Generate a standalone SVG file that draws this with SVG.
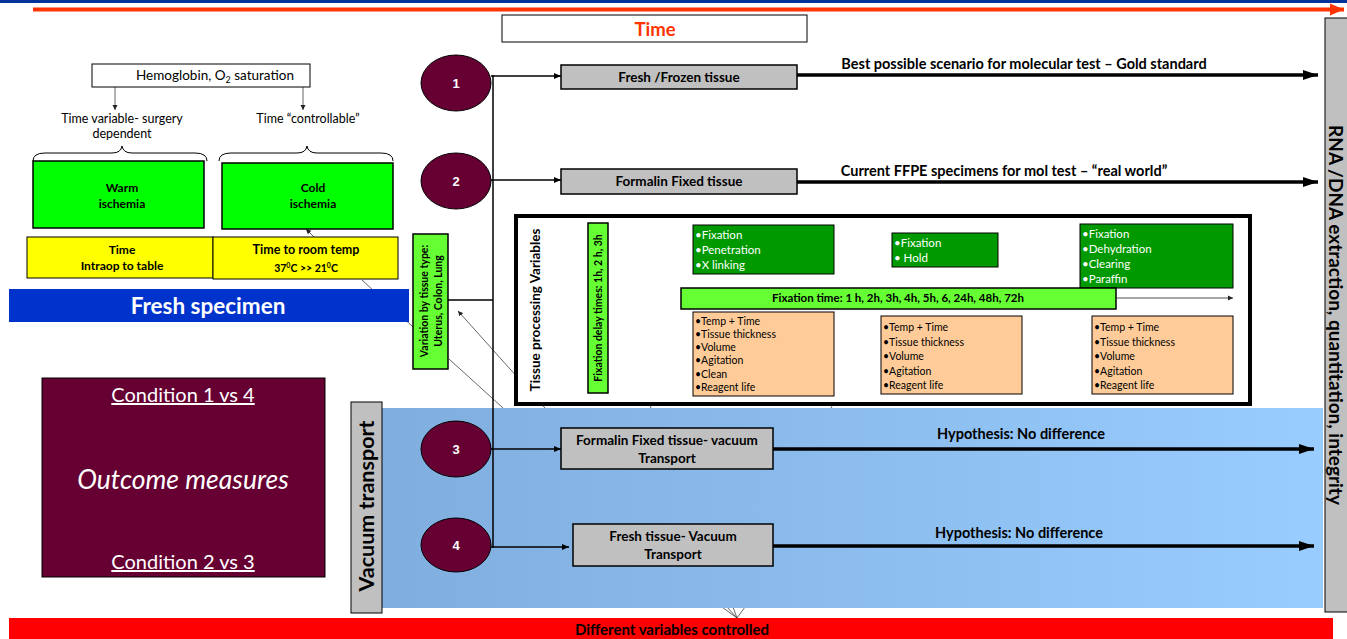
<svg xmlns="http://www.w3.org/2000/svg" width="1347" height="639" viewBox="0 0 1347 639">
<style>
text{font-family:Lato,"Liberation Sans",sans-serif;}
.b{font-weight:bold;}
.c{text-anchor:middle;}
.grey{fill:#C0C0C0;stroke:#000;stroke-width:1.5;}
.dg{fill:#009900;stroke:#000;stroke-width:1;}
.lg{fill:#66FF33;stroke:#000;stroke-width:1.5;}
.or{fill:#FFCC99;stroke:#000;stroke-width:1;}
.circ{fill:#660033;stroke:#000;stroke-width:1;}
.num{font-family:"Liberation Sans",Arial,sans-serif;font-weight:bold;font-size:13px;fill:#fff;text-anchor:middle;}
.wt{fill:#fff;font-size:11.5px;}
.bt{fill:#000;font-size:10.5px;}
.thin{stroke:#404040;stroke-width:0.8;fill:none;}
.thick{stroke:#000;stroke-width:3.5;fill:none;}
.med{stroke:#000;stroke-width:1.5;fill:none;}
.lbl{font-weight:bold;font-size:14.5px;text-anchor:middle;}
.bx{font-weight:bold;font-size:13.5px;text-anchor:middle;}
</style>
<defs>
<marker id="ah" markerWidth="8" markerHeight="8" refX="7" refY="4" orient="auto" markerUnits="userSpaceOnUse"><path d="M0,1 L7,4 L0,7 z" fill="#000"/></marker>
<marker id="big" markerWidth="16" markerHeight="12" refX="15" refY="6" orient="auto" markerUnits="userSpaceOnUse"><path d="M0,1 L15,6 L0,11 z" fill="#000"/></marker>
<marker id="red" markerWidth="16" markerHeight="14" refX="14" refY="7" orient="auto" markerUnits="userSpaceOnUse"><path d="M0,1 L14,7 L0,13 z" fill="#FF3300"/></marker>
<marker id="sm" markerWidth="6" markerHeight="6" refX="5" refY="3" orient="auto" markerUnits="userSpaceOnUse"><path d="M0,0.5 L5,3 L0,5.5 z" fill="#222"/></marker>
<linearGradient id="band" x1="0" y1="0" x2="1" y2="0"><stop offset="0" stop-color="#80AEDE"/><stop offset="1" stop-color="#99CCFF"/></linearGradient>
</defs>
<rect width="1347" height="639" fill="#fff"/>

<g id="timeline">
<rect x="0" y="0" width="1347" height="3" fill="#003399"/>
<line x1="33" y1="9.5" x2="1344" y2="9.5" stroke="#FF3300" stroke-width="4" marker-end="url(#red)"/>
</g>
<g id="time-box">
<rect x="502" y="15" width="305" height="27" fill="#fff" stroke="#000" stroke-width="1"/>
<text x="655" y="36" class="b c" font-size="18.5" fill="#FF3300">Time</text>
</g>

<g id="connectors">
<line class="thin" x1="115" y1="87" x2="115" y2="110" marker-end="url(#sm)"/>
<line class="thin" x1="303" y1="87" x2="303" y2="110" marker-end="url(#sm)"/>
<line class="thin" x1="314" y1="237" x2="306" y2="229" marker-end="url(#sm)"/>
<line class="thin" x1="362" y1="280" x2="413" y2="327"/>
<line class="thin" x1="449" y1="359" x2="503" y2="408"/>
<line class="thin" x1="545" y1="408" x2="458" y2="311" marker-end="url(#sm)"/>
<line class="thin" x1="651" y1="408" x2="614" y2="312" marker-end="url(#sm)"/>
<line class="thin" x1="878" y1="309" x2="831" y2="408"/>
<line class="thin" x1="722" y1="607" x2="737" y2="618"/>
<line class="thin" x1="727" y1="607" x2="737" y2="618"/>
<line class="thin" x1="733" y1="607" x2="737" y2="618"/>
<line class="thin" x1="745" y1="607" x2="737" y2="618"/>
</g>

<g id="hemoglobin">
<rect x="92" y="64" width="218" height="23" fill="#fff" stroke="#000" stroke-width="1"/>
<text x="215" y="80" class="c" font-size="13.5">Hemoglobin, O<tspan font-size="9" dy="3">2</tspan><tspan dy="-3"> saturation</tspan></text>
</g>
<g id="time-labels">
<text x="122" y="123" class="c" font-size="12.5">Time variable- surgery</text>
<text x="122" y="138" class="c" font-size="12.5">dependent</text>
<text x="308" y="123" class="c" font-size="12.5">Time “controllable”</text>
</g>
<g id="braces">
<path d="M33,161 Q33,153 45,153 L112,153 Q121,153 122,146 Q123,153 132,153 L195,153 Q207,153 207,161" fill="none" stroke="#000" stroke-width="1"/>
<path d="M219,161 Q219,153 231,153 L297,153 Q306,153 307,146 Q308,153 317,153 L381,153 Q393,153 393,161" fill="none" stroke="#000" stroke-width="1"/>
</g>
<g id="warm">
<rect x="33" y="161" width="171" height="67" fill="#00FF00" stroke="#000" stroke-width="1.5"/>
<text x="122" y="192" class="b c" font-size="12">Warm</text>
<text x="122" y="208" class="b c" font-size="12">ischemia</text>
</g>
<g id="cold">
<rect x="222" y="163" width="171" height="66" fill="#00FF00" stroke="#000" stroke-width="1.5"/>
<text x="313" y="192" class="b c" font-size="12">Cold</text>
<text x="313" y="208" class="b c" font-size="12">ischemia</text>
</g>
<g id="intraop">
<rect x="27" y="237" width="186" height="41" fill="#FFFF00" stroke="#000" stroke-width="1"/>
<text x="122" y="254" class="b c" font-size="12">Time</text>
<text x="122" y="270" class="b c" font-size="12">Intraop to table</text>
</g>
<g id="roomtemp">
<rect x="213" y="237" width="185" height="42" fill="#FFFF00" stroke="#000" stroke-width="1"/>
<text x="306" y="254" class="b c" font-size="12.5">Time to room temp</text>
<text x="306" y="272" class="b c" font-size="10.5">37<tspan font-size="7" dy="-4">0</tspan><tspan dy="4">C &gt;&gt; 21</tspan><tspan font-size="7" dy="-4">0</tspan><tspan dy="4">C</tspan></text>
</g>
<g id="fresh-specimen">
<rect x="9" y="289" width="400" height="33" fill="#0033CC"/>
<text x="208" y="314" class="b c" font-size="22.5" fill="#fff">Fresh specimen</text>
</g>
<g id="variation">
<rect x="413" y="234" width="35" height="135" class="lg"/>
<text transform="translate(428,301) rotate(-90)" class="b c" font-size="10.5">Variation by tissue type:</text>
<text transform="translate(442,301) rotate(-90)" class="b c" font-size="10.5">Uterus, Colon, Lung</text>
</g>

<g id="outcome">
<rect x="42" y="378" width="283" height="199" fill="#660033" stroke="#000" stroke-width="1"/>
<text x="183" y="402" class="c" font-size="20" fill="#fff" text-decoration="underline">Condition 1 vs 4</text>
<text x="183" y="489" class="c" font-size="26.5" fill="#fff" font-style="italic">Outcome measures</text>
<text x="183" y="569" class="c" font-size="20" fill="#fff" text-decoration="underline">Condition 2 vs 3</text>
</g>

<g id="vacuum-band">
<rect x="382" y="408" width="941" height="200" fill="url(#band)"/>
</g>
<g id="vacuum-label">
<rect x="351" y="402" width="31" height="211" fill="#C0C0C0" stroke="#000" stroke-width="1"/>
<text transform="translate(374,506) rotate(-90)" class="b c" font-size="21.5">Vacuum transport</text>
</g>

<g id="tissue-processing">
<rect x="516" y="216" width="734" height="188" fill="#fff" stroke="#000" stroke-width="4"/>
<text transform="translate(540,310) rotate(-90)" class="b c" font-size="13.5">Tissue processing Variables</text>
</g>
<g id="delay">
<rect x="588" y="223" width="20" height="170" class="lg"/>
<text transform="translate(602,308) rotate(-90)" class="b c" font-size="10.5">Fixation delay times: 1h, 2 h, 3h</text>
</g>
<g id="green1">
<rect x="693" y="225" width="141" height="49" class="dg"/>
<text x="695" y="239" class="wt">•Fixation</text>
<text x="695" y="254" class="wt">•Penetration</text>
<text x="695" y="269" class="wt">•X linking</text>
</g>
<g id="green2">
<rect x="892" y="233" width="106" height="34" class="dg"/>
<text x="894" y="247" class="wt">•Fixation</text>
<text x="894" y="262" class="wt">• Hold</text>
</g>
<g id="green3">
<rect x="1080" y="224" width="153" height="64" class="dg"/>
<text x="1082" y="238" class="wt">•Fixation</text>
<text x="1082" y="253" class="wt">•Dehydration</text>
<text x="1082" y="268" class="wt">•Clearing</text>
<text x="1082" y="283" class="wt">•Paraffin</text>
</g>
<g id="fixation-time">
<rect x="681" y="288" width="435" height="21" class="lg"/>
<text x="898" y="302" class="b c" font-size="11.5">Fixation time: 1 h, 2h, 3h, 4h, 5h, 6, 24h, 48h, 72h</text>
<line x1="1116" y1="298" x2="1233" y2="298" stroke="#222" stroke-width="0.8" marker-end="url(#sm)"/>
</g>
<g id="orange1">
<rect x="693" y="312" width="141" height="84" class="or"/>
<text x="695" y="325" class="bt">•Temp + Time</text>
<text x="695" y="338" class="bt">•Tissue thickness</text>
<text x="695" y="351" class="bt">•Volume</text>
<text x="695" y="364" class="bt">•Agitation</text>
<text x="695" y="378" class="bt">•Clean</text>
<text x="695" y="391" class="bt">•Reagent life</text>
</g>
<g id="orange2">
<rect x="881" y="316" width="141" height="78" class="or"/>
<text x="883" y="331" class="bt" font-size="11.5">•Temp + Time</text>
<text x="883" y="346" class="bt" font-size="11.5">•Tissue thickness</text>
<text x="883" y="360" class="bt" font-size="11.5">•Volume</text>
<text x="883" y="375" class="bt" font-size="11.5">•Agitation</text>
<text x="883" y="389" class="bt" font-size="11.5">•Reagent life</text>
</g>
<g id="orange3">
<rect x="1092" y="316" width="141" height="78" class="or"/>
<text x="1094" y="331" class="bt" font-size="11.5">•Temp + Time</text>
<text x="1094" y="346" class="bt" font-size="11.5">•Tissue thickness</text>
<text x="1094" y="360" class="bt" font-size="11.5">•Volume</text>
<text x="1094" y="375" class="bt" font-size="11.5">•Agitation</text>
<text x="1094" y="389" class="bt" font-size="11.5">•Reagent life</text>
</g>

<g id="flow-connectors">
<line class="med" x1="493" y1="75" x2="493" y2="548" stroke-width="2"/>
<line class="med" x1="448" y1="300" x2="493" y2="300" stroke-width="2"/>
<line class="med" x1="491" y1="76" x2="561" y2="76" marker-end="url(#ah)"/>
<line class="med" x1="491" y1="180" x2="561" y2="180" marker-end="url(#ah)"/>
<line class="med" x1="491" y1="449" x2="561" y2="449" marker-end="url(#ah)"/>
<line class="med" x1="491" y1="547" x2="569" y2="547" marker-end="url(#ah)"/>
<line class="thick" x1="797" y1="75" x2="1318" y2="75" marker-end="url(#big)"/>
<line class="thick" x1="797" y1="182" x2="1318" y2="182" marker-end="url(#big)"/>
<line class="thick" x1="773" y1="449" x2="1314" y2="449" marker-end="url(#big)"/>
<line class="thick" x1="773" y1="546" x2="1314" y2="546" marker-end="url(#big)"/>
</g>
<g id="arrow-labels">
<text x="1024" y="69" class="lbl">Best possible scenario for molecular test – Gold standard</text>
<text x="1004" y="176" class="lbl">Current FFPE specimens for mol test – “real world”</text>
<text x="1021" y="439" class="lbl">Hypothesis: No difference</text>
<text x="1019" y="538" class="lbl">Hypothesis: No difference</text>
</g>

<g id="c1"><ellipse cx="456" cy="83" rx="35" ry="28" class="circ"/><text x="456" y="88" class="num">1</text></g>
<g id="c2"><ellipse cx="456" cy="181" rx="35" ry="28" class="circ"/><text x="456" y="186" class="num">2</text></g>
<g id="c3"><ellipse cx="456" cy="449" rx="35" ry="28" class="circ"/><text x="456" y="454" class="num">3</text></g>
<g id="c4"><ellipse cx="456" cy="545" rx="35" ry="27" class="circ"/><text x="456" y="550" class="num">4</text></g>

<g id="b1"><rect x="561" y="65" width="236" height="24" class="grey"/><text x="679" y="82" class="bx">Fresh /Frozen tissue</text></g>
<g id="b2"><rect x="561" y="169" width="236" height="25" class="grey"/><text x="679" y="186" class="bx">Formalin Fixed tissue</text></g>
<g id="b3"><rect x="561" y="428" width="212" height="41" class="grey"/><text x="667" y="445" class="bx">Formalin Fixed tissue- vacuum</text><text x="667" y="463" class="bx">Transport</text></g>
<g id="b4"><rect x="573" y="524" width="200" height="42" class="grey"/><text x="673" y="541" class="bx">Fresh tissue- Vacuum</text><text x="673" y="559" class="bx">Transport</text></g>

<g id="rna">
<rect x="1325" y="18" width="24" height="594" fill="#C0C0C0" stroke="#000" stroke-width="1"/>
<text transform="translate(1329,315) rotate(90)" class="b c" font-size="19">RNA /DNA extraction, quantitation, integrity</text>
</g>

<g id="different">
<rect x="9" y="618" width="1324" height="21" fill="#FF0000"/>
<text x="672" y="635" class="b c" font-size="15">Different variables controlled</text>
</g>
</svg>
